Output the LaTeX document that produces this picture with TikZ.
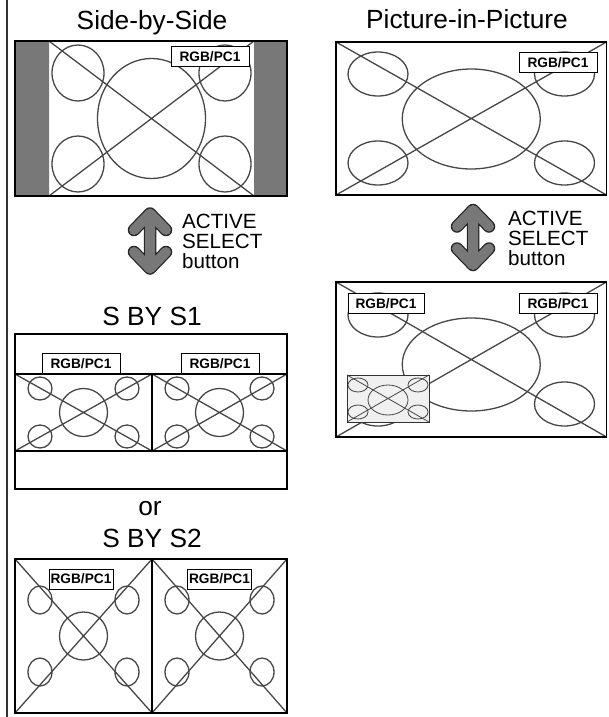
\documentclass[tikz,border=0pt]{standalone}
\usepackage{fontspec}
\setmainfont{Liberation Sans}
\definecolor{bargray}{gray}{0.47}
\tikzset{
  frame/.style={draw=black, line width=1.8},
  scr/.style={draw=black!72, line width=1.3},
  lbl/.style={draw=black, fill=white, line width=1, font=\fontsize{13.7}{14}\selectfont\bfseries,
    inner sep=0pt, minimum width=78, minimum height=20},
  ttl/.style={font=\fontsize{26.3}{28}\selectfont, anchor=base, inner sep=0pt},
  btxt/.style={font=\fontsize{20.6}{20}\selectfont, anchor=base west, inner sep=0pt},
}
% screen test picture: x0, y0, w, h, centre radii, small dx, small dy, small radii, centre shift
\newcommand{\tvpic}[9]{%
  \draw[scr] (#1,#2) -- ++(#3,#4) (#1+#3,#2) -- ++(-#3,#4);
  \draw[scr] (#1+#3/2,#2+#4/2+#9) ellipse (#5);
  \draw[scr] (#1+#6,#2+#7) ellipse (#8) (#1+#3-#6,#2+#7) ellipse (#8)
    (#1+#6,#2+#4-#7) ellipse (#8) (#1+#3-#6,#2+#4-#7) ellipse (#8);
}
% double arrow of the ACTIVE SELECT button
\newcommand{\selarrow}[3]{%
  \coordinate (#1) at (#2,#3);
  \foreach \lw/\col in {12.5/black!85, 10/bargray}
    \draw[line width=\lw, \col, line cap=round, line join=round]
      ([shift={(-16,-11)}]#1) -- ([shift={(0,-27.5)}]#1) -- ([shift={(16,-11)}]#1)
      ([shift={(0,-27.5)}]#1) -- ([shift={(0,27.5)}]#1)
      ([shift={(-16,11)}]#1) -- ([shift={(0,27.5)}]#1) -- ([shift={(16,11)}]#1);
}
\begin{document}
\begin{tikzpicture}[x=1pt, y=-1pt]
    \useasboundingbox (0,0) rectangle (608,717);
    % Left rule
    \draw[line width=2, black!80] (7,0) -- (7,717);

    % Side-by-Side
    \node[ttl] (t-sbs) at (152,30) {Side-by-Side};
    \fill[bargray] (15,41) rectangle (49,196) (254,41) rectangle (287,196);
    \tvpic{49}{41}{205}{155}{54 and 60}{29}{32}{26 and 28}{0}
    \draw[frame] (15,41) rectangle (287,196);
    \node[lbl] (l-sbs) at (210,57) {RGB/PC1};

    \selarrow{a-sbs}{150}{241}
    \foreach \t [count=\i] in {ACTIVE,SELECT,button}
        \node[btxt] (b-sbs-\i) at (182,208+20*\i) {\t};

    % S BY S1
    \node[ttl] (t-s1) at (152,325) {S BY S1};
    \draw[frame, line width=1.3] (15,334) rectangle (287,489);
    \tvpic{15}{374}{137}{77}{24 and 24}{25}{14.5}{12 and 11.5}{0}
    \tvpic{152}{374}{135}{77}{24 and 24}{25}{14.5}{12 and 11.5}{0}
    \draw[frame] (15,374) rectangle (287,451) (152,374) -- (152,451);
    \node[lbl] (l-s1a) at (81,363.5) {RGB/PC1};
    \node[lbl] (l-s1b) at (220,363.5) {RGB/PC1};

    % S BY S2
    \node[ttl] (t-or) at (150,515) {or};
    \node[ttl] (t-s2) at (152,547) {S BY S2};
    \tvpic{15}{559}{137}{154}{24 and 24}{25}{41}{12 and 14}{0}
    \tvpic{152}{559}{135}{154}{24 and 24}{25}{41}{12 and 14}{0}
    \draw[frame] (15,559) rectangle (287,713) (152,559) -- (152,713);
    \node[lbl, minimum width=64] (l-s2a) at (81,579) {RGB/PC1};
    \node[lbl, minimum width=64] (l-s2b) at (219.5,579) {RGB/PC1};

    % Picture-in-Picture
    \node[ttl] (t-pip) at (467,29) {Picture-in-Picture};
    \tvpic{336}{42}{270.5}{153}{69 and 50}{42}{32}{30 and 22}{0.5}
    \draw[frame] (336,42) rectangle (606.5,195);
    \node[lbl] (l-pip) at (558,62.5) {RGB/PC1};

    \selarrow{a-pip}{473}{237.5}
    \foreach \t [count=\i] in {ACTIVE,SELECT,button}
        \node[btxt] (b-pip-\i) at (508,205+20*\i) {\t};

    % PiP with inset
    \tvpic{336}{282}{270.5}{155}{69 and 46.5}{42}{33}{30 and 22}{5}
    \draw[frame] (336,282) rectangle (606.5,437);
    \node[lbl, minimum width=76] (l-pipa) at (386,303.5) {RGB/PC1};
    \node[lbl] (l-pipb) at (558,303.5) {RGB/PC1};
    \fill[black!6] (347,375) rectangle (429,422);
    \begin{scope}[scr/.append style={line width=0.8}]
        \tvpic{347}{375}{82}{47}{20 and 15}{11}{10}{10 and 7}{1.5}
    \end{scope}
    \draw[line width=1, black!80] (347,375) rectangle (429,422);
\end{tikzpicture}
\end{document}
